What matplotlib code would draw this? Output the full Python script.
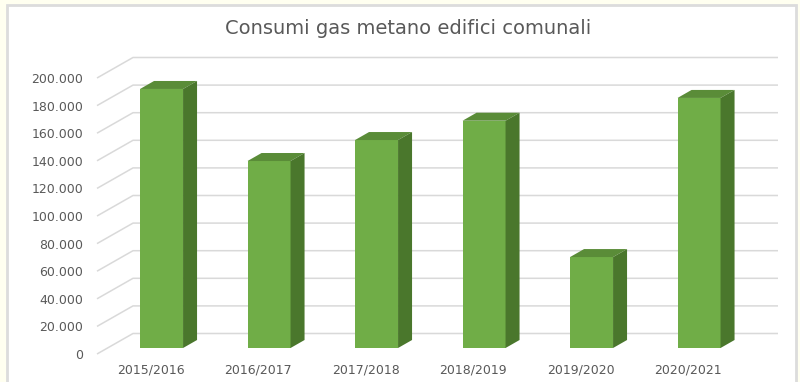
import matplotlib
matplotlib.use("Agg")
import matplotlib.pyplot as plt
from matplotlib.patches import Polygon, Rectangle

# Data
categories = ["2015/2016", "2016/2017", "2017/2018", "2018/2019", "2019/2020", "2020/2021"]
consumi = [187700, 135500, 150700, 164700, 65900, 181200]
tick_values = list(range(0, 200001, 20000))
tick_labels = ["0" if v == 0 else f"{v:,}".replace(",", ".") for v in tick_values]
title = "Consumi gas metano edifici comunali"

# Style
FRONT = "#70AD47"
SIDE = "#4A772C"
TOP = "#5A8C38"
GRID = "#D9D9D9"
TEXT = "#595959"
W, H, DPI = 800, 382, 100

fig = plt.figure(figsize=(W / DPI, H / DPI), dpi=DPI, facecolor="#FFFFF0")
# white chart area with a light border, running off the bottom edge
fig.patches.append(Rectangle((7 / W, -0.05), 789 / W, 1.05 - 5 / H, transform=fig.transFigure,
                             facecolor="white", edgecolor="#DCDCDC", linewidth=2, zorder=-5))

# front plane of the 3D box
ax_left, ax_right, ax_bottom, ax_top = 97, 742, 354, 78
ax = fig.add_axes([ax_left / W, 1 - ax_bottom / H, (ax_right - ax_left) / W, (ax_bottom - ax_top) / H])
ax.set_zorder(2)
ax.set_facecolor("none")
ax.set_xlim(-0.5, len(categories) - 0.5)
ax.set_ylim(0, 200000)

# pixel -> data conversion
px_x = (len(categories)) / (ax_right - ax_left)
px_y = 200000 / (ax_bottom - ax_top)

# depth offsets (oblique projection)
wall_dx, wall_dy = 36 * px_x, 20.5 * px_y      # back wall
bar_fx, bar_fy = 10.8 * px_x, 6 * px_y         # bar front face
bar_dx, bar_dy = 14 * px_x, 8 * px_y           # bar depth
bar_w = 0.4

# gridlines: slanted side segment + back wall line
x0, x1 = -0.5, len(categories) - 0.5
for v in tick_values:
    ax.plot([x0, x0 + wall_dx, x1 + wall_dx], [v, v + wall_dy, v + wall_dy],
            color=GRID, lw=1.1, zorder=1, clip_on=False, solid_capstyle="butt")

# bars
for i, v in enumerate(consumi):
    left = i + bar_fx - bar_w / 2
    right = left + bar_w
    base = bar_fy
    top = base + v
    ax.bar(left, v, width=bar_w, bottom=base, align="edge", color=FRONT,
           edgecolor="none", zorder=3, clip_on=False)
    ax.add_patch(Polygon([(left, top), (right, top), (right + bar_dx, top + bar_dy),
                          (left + bar_dx, top + bar_dy)], closed=True,
                         facecolor=TOP, edgecolor="none", zorder=3, clip_on=False))
    ax.add_patch(Polygon([(right, base), (right + bar_dx, base + bar_dy),
                          (right + bar_dx, top + bar_dy), (right, top)], closed=True,
                         facecolor=SIDE, edgecolor="none", zorder=3, clip_on=False))

ax.set_yticks(tick_values)
ax.set_yticklabels(tick_labels)
ax.set_xticks(range(len(categories)))
ax.set_xticklabels(categories)
ax.tick_params(axis="y", length=0, pad=10, labelsize=9, labelcolor=TEXT)
ax.tick_params(axis="x", length=0, pad=7, labelsize=9, labelcolor=TEXT)
for s in ax.spines.values():
    s.set_visible(False)

fig.text(408 / W, 1 - 28 / H, title, ha="center", va="center", fontsize=14, color=TEXT)

fig.savefig("out.png", dpi=DPI, facecolor=fig.get_facecolor())
